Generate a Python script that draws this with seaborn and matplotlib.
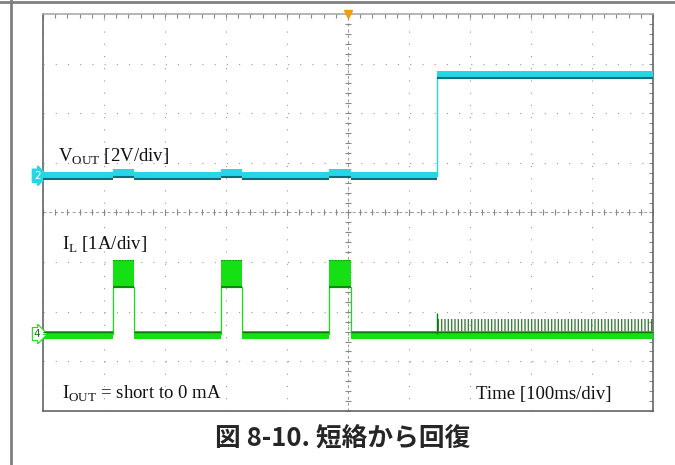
"""
Scope capture: short-circuit recovery (hiccup mode), VOUT and IL vs time.
"""
import matplotlib
matplotlib.use("Agg")
import matplotlib.pyplot as plt
import matplotlib.transforms as mtransforms
from matplotlib.lines import Line2D
import numpy as np
import pandas as pd
import seaborn as sns

screen_ms = [0, 1000]            # 10 div x 100 ms/div
hiccup_on_ms = [115, 292, 469]
hiccup_off_ms = [149, 326, 505]
recover_ms = 646

vout_low_v = 0.0
vout_hiccup_v = 0.1
vout_high_v = 4.06

il_idle_a = 0.0
il_valley_a = 0.95
il_peak_a = 1.5
il_ripple_a = 0.3                # switching spikes after recovery
il_kick_a = 0.42

vout_scale = 2.0                 # V/div
il_scale = 1.0                   # A/div
vout_pos_div = 4.74              # channel ground markers
il_pos_div = 1.55

CYAN = "#27d6e6"
CYAN_DARK = "#0b6f7a"
GREEN = "#14e014"
GREEN_DARK = "#0a7a0a"


def step_trace(base, pulse, end_level):
    t, y = [screen_ms[0]], [base]
    for on, off in zip(hiccup_on_ms, hiccup_off_ms):
        t += [on, on, off, off]
        y += [base, pulse, pulse, base]
    t += [recover_ms, recover_ms, screen_ms[1]]
    y += [base, end_level, end_level]
    return pd.DataFrame({"t": t, "y": y})


sns.set_theme(style="white")
plt.rcParams["font.family"] = ["Liberation Serif", "DejaVu Sans"]
plt.rcParams["mathtext.fontset"] = "custom"
plt.rcParams["mathtext.rm"] = "Liberation Serif"

fig = plt.figure(figsize=(6.75, 4.65), dpi=100)
ax = fig.add_axes([43 / 675, 1 - 411 / 465, 610 / 675, 397 / 465])
ax.set_xlim(*screen_ms)
ax.set_ylim(0, 8)

# ── Graticule ──────────────────────────────────────────────────────────
ax.set_xticks(np.arange(0, 1001, 100))
ax.set_xticks(np.arange(0, 1001, 20), minor=True)
ax.set_yticks(np.arange(0, 9, 1))
ax.set_yticks(np.arange(0, 8.01, 0.2), minor=True)
ax.tick_params(which="both", direction="in", top=True, right=True,
               length=3, width=0.8, color="#888888",
               labelbottom=False, labelleft=False)
ax.grid(which="major", color="#9a9a9a", linestyle=(0, (1, 10)), linewidth=0.8)
ax.axhline(4, color="#999999", linewidth=0.7, linestyle=(0, (3, 3)))
ax.axvline(500, color="#999999", linewidth=0.7, linestyle=(0, (3, 3)))
ax.plot(np.arange(0, 1001, 20), np.full(51, 4.0), ls="none", marker="|",
        ms=5, mew=0.8, color="#888888")
ax.plot(np.full(41, 500.0), np.arange(0, 8.01, 0.2), ls="none", marker="_",
        ms=5, mew=0.8, color="#888888")
for side, sp in ax.spines.items():
    sp.set_color("#aaaaaa" if side == "top" else "#666666")
    sp.set_linewidth(1.2)

# ── VOUT (channel 2) ───────────────────────────────────────────────────
vout = step_trace(vout_low_v, vout_hiccup_v, vout_high_v)
vout["div"] = vout["y"] / vout_scale + vout_pos_div
ax.fill_between(vout["t"], vout["div"] - 0.08, vout["div"] + 0.08,
                color=CYAN, linewidth=0, zorder=3)
sns.lineplot(data=vout, x="t", y="div", ax=ax, sort=False, estimator=None,
             color=CYAN, linewidth=1.0, zorder=4)
flat = vout[vout["div"].diff() == 0]
ax.hlines(flat["div"] - 0.065, vout["t"].shift(1)[flat.index], flat["t"],
          color=CYAN_DARK, linewidth=1.5, zorder=5)

# ── IL (channel 4) ─────────────────────────────────────────────────────
il = step_trace(il_idle_a, il_valley_a, il_idle_a)
il["div"] = il["y"] / il_scale + il_pos_div
sns.lineplot(data=il, x="t", y="div", ax=ax, sort=False, estimator=None,
             color=GREEN, linewidth=0.9, zorder=4)

peak_div = il_peak_a / il_scale + il_pos_div
valley_div = il_valley_a / il_scale + il_pos_div
idle_div = il_idle_a / il_scale + il_pos_div
for on, off in zip(hiccup_on_ms, hiccup_off_ms):
    ax.fill_between([on, off], valley_div, peak_div, color=GREEN,
                    linewidth=0, zorder=3)
    ax.hlines(valley_div, on, off, color=GREEN_DARK, linewidth=1.2, zorder=5)
    ax.hlines(peak_div, on, off, color=GREEN_DARK, linewidth=0.8,
              linestyles=(0, (1, 1.5)), zorder=5)

idle_start = [screen_ms[0]] + hiccup_off_ms
idle_end = hiccup_on_ms + [screen_ms[1]]
for s, e in zip(idle_start, idle_end):
    ax.fill_between([s, e], idle_div - 0.09, idle_div + 0.06, color=GREEN,
                    linewidth=0, zorder=3)
    ax.hlines(idle_div + 0.05, s, e, color=GREEN_DARK, linewidth=1.0, zorder=5)

ax.fill_between([recover_ms, screen_ms[1]], idle_div + 0.06,
                idle_div + il_ripple_a / il_scale, facecolor="none",
                edgecolor="#3f7f3f", hatch="|||||", linewidth=0, zorder=2)
ax.vlines(recover_ms, idle_div, idle_div + il_kick_a / il_scale,
          color=GREEN_DARK, linewidth=1.0, zorder=5)

# ── Markers & labels ───────────────────────────────────────────────────
blend = mtransforms.blended_transform_factory(ax.transAxes, ax.transData)
ax.text(-0.004, vout_pos_div, "2", transform=blend, ha="right", va="center",
        fontsize=7.5, color="white", family=["DejaVu Sans"],
        bbox=dict(boxstyle="rarrow,pad=0.15", fc=CYAN, ec=CYAN))
ax.text(-0.004, il_pos_div, "4", transform=blend, ha="right", va="center",
        fontsize=7.5, color=GREEN_DARK, family=["DejaVu Sans"],
        bbox=dict(boxstyle="rarrow,pad=0.15", fc="white", ec=GREEN, lw=0.8))
ax.plot([500], [8], marker="v", ms=6, color="#f39c12", clip_on=False, zorder=6)

ax.text(25, 5.02, r"V$_{\mathrm{OUT}}$ [2V/div]", fontsize=13.5,
        va="baseline", color="#111111")
ax.text(31, 3.25, r"I$_{\mathrm{L}}$ [1A/div]", fontsize=13.5,
        va="baseline", color="#111111")
ax.text(31, 0.24, r"I$_{\mathrm{OUT}}$ = short to 0 mA", fontsize=13.5,
        va="baseline", color="#111111")
ax.text(710, 0.24, "Time [100ms/div]", fontsize=13.5,
        va="baseline", color="#111111")
ax.set_xlabel("")
ax.set_ylabel("")

# ── Page frame & caption ───────────────────────────────────────────────
fig.add_artist(Line2D([0, 1], [1 - 2 / 465] * 2, transform=fig.transFigure,
                      color="#808080", linewidth=2))
fig.add_artist(Line2D([11 / 675] * 2, [0, 1], transform=fig.transFigure,
                      color="#808080", linewidth=2))
fig.text(343 / 675, 1 - 439 / 465, "図 8-10. 短絡から回復", ha="center",
         va="center", fontsize=18.5, fontweight="bold",
         family=["Noto Sans CJK JP", "DejaVu Sans"])

fig.savefig("out.png", dpi=100)
plt.close(fig)
